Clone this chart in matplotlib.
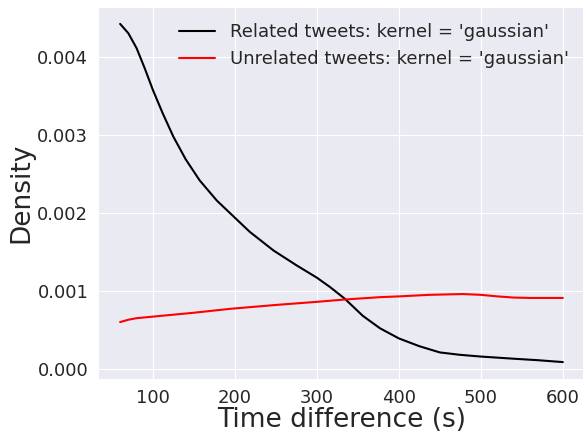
import matplotlib
matplotlib.use('Agg')
import matplotlib.pyplot as plt
import seaborn as sns

# time difference in seconds, KDE density
time_related = [60, 70, 80, 90, 100, 112, 125, 140, 157, 178, 200, 218, 247, 275, 300,
                316, 334, 356, 377, 400, 425, 450, 474, 500, 539, 570, 600]
density_related = [0.00443, 0.00431, 0.00412, 0.00386, 0.00358, 0.00328, 0.00298, 0.00269,
                   0.00242, 0.00216, 0.00194, 0.00176, 0.00152, 0.00133, 0.00117,
                   0.00105, 0.00090, 0.00068, 0.00052, 0.00039, 0.00029, 0.00021, 0.00018,
                   0.000157, 0.00013, 0.00011, 0.000086]

time_unrelated = [60, 70, 80, 100, 150, 194, 250, 300, 334, 377, 400, 437, 478, 500, 520,
                  540, 560, 580, 600]
density_unrelated = [0.00060, 0.00063, 0.00065, 0.00067, 0.00072, 0.00077, 0.00082, 0.00086,
                     0.00089, 0.00092, 0.00093, 0.00095, 0.00096, 0.00095, 0.00093,
                     0.000915, 0.00091, 0.00091, 0.00091]

sns.set_style('darkgrid')
plt.rcParams['font.family'] = ['DejaVu Sans']

fig = plt.figure(figsize=(5.83, 4.33), dpi=100)
ax = fig.add_axes([98 / 583, 54 / 433, 487 / 583, 372 / 433])

ax.plot(time_related, density_related, color='black', lw=1.5,
        label="Related tweets: kernel = 'gaussian'")
ax.plot(time_unrelated, density_unrelated, color='red', lw=1.5,
        label="Unrelated tweets: kernel = 'gaussian'")

ax.set_xticks([100, 200, 300, 400, 500, 600])
ax.set_yticks([0.000, 0.001, 0.002, 0.003, 0.004])
ax.tick_params(labelsize=13, colors='#262626')
ax.set_xlabel('Time difference (s)', fontsize=19, color='#262626', labelpad=0)
ax.set_ylabel('Density', fontsize=19, color='#262626', labelpad=2)
ax.legend(loc='upper right', fontsize=13, frameon=False)

fig.savefig('out.png', dpi=100)
